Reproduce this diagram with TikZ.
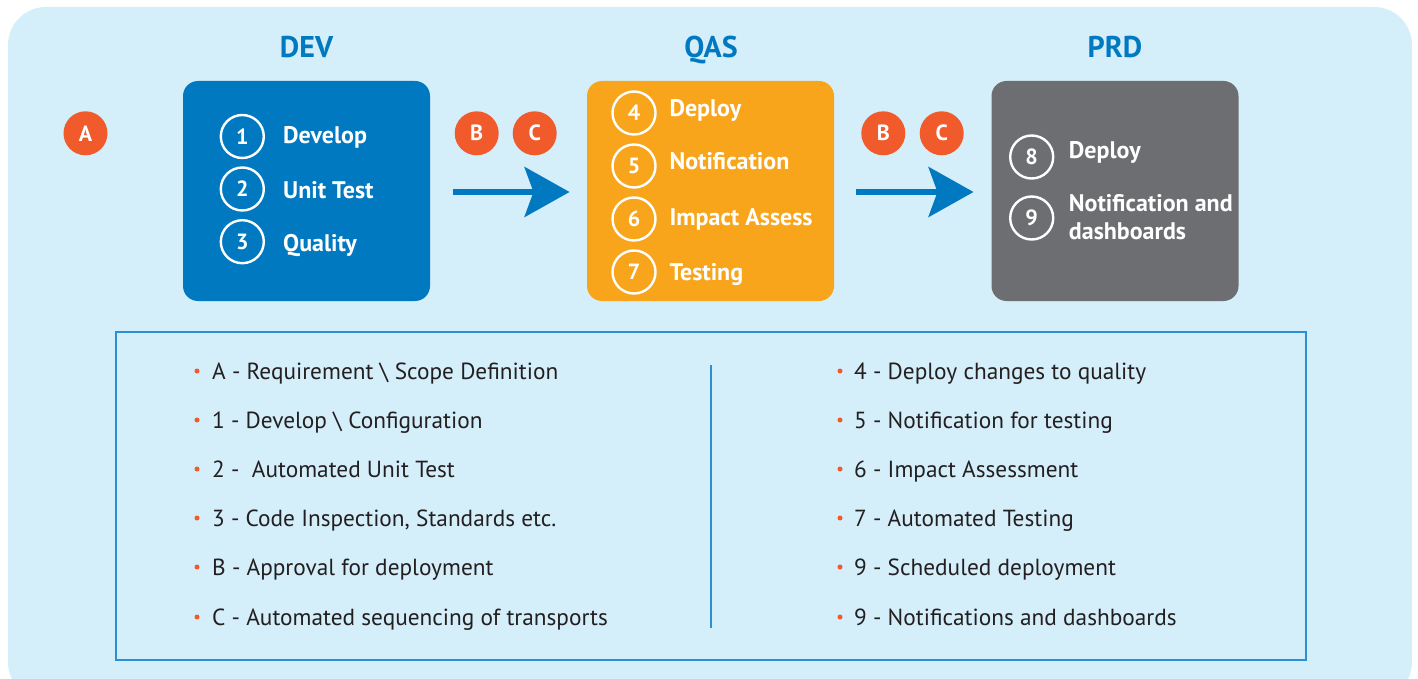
\documentclass[tikz,border=0pt]{standalone}
\usepackage{fontspec}
\setmainfont{PT Sans}
\usetikzlibrary{arrows.meta}
\definecolor{bgblue}{HTML}{D4EEFA}
\definecolor{devblue}{HTML}{0079C1}
\definecolor{qasorange}{HTML}{F9A51C}
\definecolor{prdgray}{HTML}{6D6E71}
\definecolor{badgered}{HTML}{F15A2B}
\definecolor{legendblue}{HTML}{2B8FD5}
\definecolor{textdark}{HTML}{231F20}
\tikzset{
  title/.style={font=\fontsize{30}{34}\selectfont\bfseries, text=devblue, anchor=base},
  stagebox/.style={rounded corners=15pt, minimum width=247pt, minimum height=220pt, inner sep=0pt},
  numcirc/.style={circle, draw=white, line width=2.4pt, minimum size=43pt, inner sep=0pt, text=white, font=\fontsize{22}{24}\selectfont\bfseries},
  steplabel/.style={anchor=base west, text=white, font=\fontsize{24}{27}\selectfont\bfseries, inner sep=0pt, align=left},
  badge/.style={circle, fill=badgered, minimum size=44pt, inner sep=0pt, text=white, font=\fontsize{22}{24}\selectfont\bfseries},
  flowarrow/.style={draw=devblue, line width=5.5pt, -{Stealth[length=45pt, width=50pt, inset=9pt]}},
  bulletdot/.style={circle, fill=badgered, minimum size=5pt, inner sep=0pt},
  legendtext/.style={anchor=base west, text=textdark, font=\fontsize{23.3}{26}\selectfont, inner sep=0pt},
}
\begin{document}
\begin{tikzpicture}[x=1pt, y=-1pt]
\useasboundingbox (0,0) rectangle (1418,679);
% background
\fill[bgblue, rounded corners=38pt] (8,7) rectangle (1412,700);
\fill[white] (0,679) rectangle (1418,705);

% titles
\node[title] (devt) at (306.5,57.5) {DEV};
\node[title] (qast) at (711,57.5) {QAS};
\node[title] (prdt) at (1115,57.5) {PRD};

% stage boxes
\node[stagebox, fill=devblue] (dev) at (306.5,191) {};
\node[stagebox, fill=qasorange] (qas) at (710.5,191) {};
\node[stagebox, fill=prdgray] (prd) at (1115,191) {};

% DEV steps
\node[numcirc] (n1) at (242.3,136.5) {1};
\node[numcirc] (n2) at (242.3,189) {2};
\node[numcirc] (n3) at (242.3,241.7) {3};
\node[steplabel] (l1) at (283,143.3) {Develop};
\node[steplabel] (l2) at (283,198.3) {Unit Test};
\node[steplabel] (l3) at (283,251.5) {Quality};

% QAS steps
\node[numcirc] (n4) at (634,113) {4};
\node[numcirc] (n5) at (634,166) {5};
\node[numcirc] (n6) at (634,219) {6};
\node[numcirc] (n7) at (634,272) {7};
\node[steplabel] (l4) at (669.3,116.7) {Deploy};
\node[steplabel] (l5) at (669.3,170) {Notification};
\node[steplabel] (l6) at (669.3,225.5) {Impact Assess};
\node[steplabel] (l7) at (669.3,280) {Testing};

% PRD steps
\node[numcirc] (n8) at (1031.7,157) {8};
\node[numcirc] (n9) at (1031.7,218) {9};
\node[steplabel] (l8) at (1068.7,158.3) {Deploy};
\node[steplabel] (l9a) at (1068.7,211.7) {Notification and};
\node[steplabel] (l9b) at (1068.7,239.3) {dashboards};

% badges
\node[badge] (ba) at (85.5,133.3) {A};
\node[badge] (bb1) at (476.7,133.3) {B};
\node[badge] (bc1) at (534.7,133.3) {C};
\node[badge] (bb2) at (883.3,133.3) {B};
\node[badge] (bc2) at (941.7,133.3) {C};

% arrows
\coordinate (a1s) at (452.5,192);
\coordinate (a1e) at (569.5,192);
\coordinate (a2s) at (856,192);
\coordinate (a2e) at (973.5,192);
\draw[flowarrow] (a1s) -- (a1e);
\draw[flowarrow] (a2s) -- (a2e);

% legend
\node[draw=legendblue, line width=1.6pt, minimum width=1190pt, minimum height=328pt, inner sep=0pt] (legend) at (711,496) {};
\coordinate (divtop) at (711,365);
\coordinate (divbot) at (711,628);
\draw[legendblue, line width=1.3pt] (divtop) -- (divbot);

\foreach \y/\t [count=\i] in {371/{A - Requirement \textbackslash{} Scope Definition},
  420/{1 - Develop \textbackslash{} Configuration},
  469/{2 - \ Automated Unit Test},
  518/{3 - Code Inspection, Standards etc.},
  567/{B - Approval for deployment},
  617/{C - Automated sequencing of transports}} {
  \node[bulletdot] (lb\i) at (197,\y) {};
  \node[legendtext] (lt\i) at (212,\y+8) {\t};
}
\foreach \y/\t [count=\i] in {371/{4 - Deploy changes to quality},
  420/{5 - Notification for testing},
  469/{6 - Impact Assessment},
  518/{7 - Automated Testing},
  567/{9 - Scheduled deployment},
  617/{9 - Notifications and dashboards}} {
  \node[bulletdot] (rb\i) at (840,\y) {};
  \node[legendtext] (rt\i) at (854,\y+8) {\t};
}
\end{tikzpicture}
\end{document}
